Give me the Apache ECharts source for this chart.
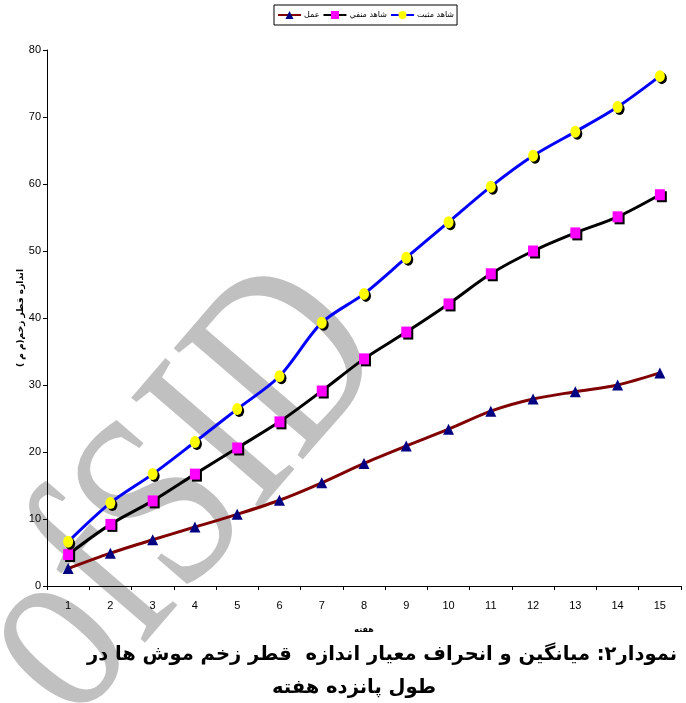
<!DOCTYPE html>
<html><head><meta charset="utf-8">
<script src="https://cdn.jsdelivr.net/npm/echarts@6/dist/echarts.min.js"></script>
<style>html,body{margin:0;padding:0;background:#fff}#c{width:686px;height:703px}</style>
</head><body><div id="c"></div>
<script>
const weeks = ['1','2','3','4','5','6','7','8','9','10','11','12','13','14','15'];
const positiveControl = [6.6, 12.4, 16.7, 21.5, 26.4, 31.3, 39.3, 43.6, 49.0, 54.3, 59.6, 64.2, 67.8, 71.5, 76.1];
const negativeControl = [4.7, 9.2, 12.7, 16.7, 20.6, 24.5, 29.1, 33.9, 37.9, 42.1, 46.6, 50.0, 52.7, 55.1, 58.4];
const treatment = [2.6, 4.9, 6.9, 8.8, 10.7, 12.8, 15.4, 18.3, 20.9, 23.4, 26.1, 27.9, 29.0, 30.0, 31.8];
const yTicks = [0, 10, 20, 30, 40, 50, 60, 70, 80];
const names = ['عمل', 'شاهد منفي', 'شاهد مثبت'];

const chart = echarts.init(document.getElementById('c'));
const shadow = {shadowColor:'rgba(0,0,0,1)', shadowOffsetX:2, shadowOffsetY:2, shadowBlur:0};
chart.setOption({
  animation:false,
  textStyle:{fontFamily:'Liberation Sans, Arial, sans-serif'},
  legend:{
    top:5, left:274, itemGap:3, itemWidth:23, itemHeight:10,
    borderColor:'#000', borderWidth:1, padding:[6,3],
    textStyle:{fontSize:8, fontFamily:'DejaVu Sans', color:'#000', padding:[0,0,0,-2]},
    data:names
  },
  graphic:[
    {type:'text', x:182, y:495, rotation:0.86, scaleX:1, scaleY:1.3, z:-10, silent:true,
     style:{text:'ofSID', fill:'#c0c0c0', font:'200px "Liberation Serif", serif', textAlign:'center', textVerticalAlign:'middle'}},
    {type:'text', x:382, y:655, style:{text:'نمودار۲: میانگین و انحراف معیار اندازه  قطر زخم موش ها در', fill:'#000', font:'bold 19.5px "DejaVu Sans", sans-serif', textAlign:'center', textVerticalAlign:'middle'}},
    {type:'text', x:354, y:688, style:{text:'طول پانزده هفته', fill:'#000', font:'bold 19.5px "DejaVu Sans", sans-serif', textAlign:'center', textVerticalAlign:'middle'}}
  ],
  grid:{left:47, right:5, top:50, bottom:117},
  xAxis:{
    type:'category', data:weeks, boundaryGap:true,
    name:'هفته', nameLocation:'middle', nameGap:40,
    nameTextStyle:{fontSize:8, fontFamily:'DejaVu Sans', fontWeight:'bold', color:'#000'},
    axisLine:{lineStyle:{color:'#000', width:1}},
    axisTick:{show:true, length:4, alignWithLabel:false, lineStyle:{color:'#000'}},
    axisLabel:{color:'#000', fontSize:11, margin:14}
  },
  yAxis:{
    type:'value', min:0, max:80, interval:10,
    name:'اندازه قطر زخم(م م )', nameLocation:'middle', nameGap:22, nameRotate:90, nameMoveOverlap:false,
    nameTextStyle:{fontSize:9, fontFamily:'DejaVu Sans', fontWeight:'bold', color:'#000'},
    axisLine:{show:true, lineStyle:{color:'#000', width:1}},
    axisTick:{show:true, length:4, lineStyle:{color:'#000'}},
    splitLine:{show:false},
    axisLabel:{color:'#000', fontSize:11, margin:6, formatter:(v)=> yTicks.includes(v) ? String(v) : ''}
  },
  series:[
    {name:names[0], type:'line', data:treatment, smooth:0.3, symbol:'triangle', symbolSize:11,
     lineStyle:{color:'#800000', width:3}, itemStyle:{color:'#000080'}, z:3},
    {name:names[1], type:'line', data:negativeControl, smooth:0.3, symbol:'rect', symbolSize:[10,11],
     lineStyle:{color:'#000', width:3}, itemStyle:Object.assign({color:'#ff00ff'}, shadow), z:4},
    {name:names[2], type:'line', data:positiveControl, smooth:0.3, symbol:'circle', symbolSize:[10,12],
     lineStyle:{color:'#0000ff', width:3}, itemStyle:Object.assign({color:'#ffff00'}, shadow), z:5}
  ]
});
</script></body></html>
